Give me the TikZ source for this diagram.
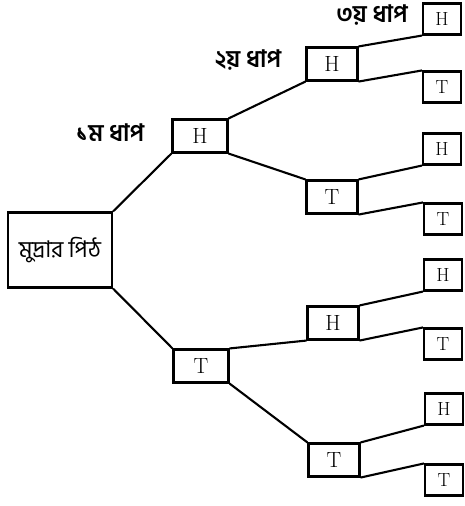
\documentclass[tikz,border=0pt]{standalone}
\usepackage{fontspec}
\newfontfamily\bn[Script=Bengali]{Hind Siliguri}
\begin{document}
\begin{tikzpicture}[x=1pt,y=-1pt,
  box/.style={draw,line width=2.1pt,inner sep=0pt,font=\fontsize{22}{22}\selectfont},
  bA/.style={box,minimum width=55pt,minimum height=33pt},
  bB/.style={box,minimum width=51pt,minimum height=33pt},
  bC/.style={box,minimum width=38pt,minimum height=31pt,font=\fontsize{19}{19}\selectfont},
  lab/.style={font=\bn\bfseries\fontsize{24}{24}\selectfont,inner sep=0pt},
  conn/.style={line width=2.1pt}]
\useasboundingbox (0,0) rectangle (465,506);
\node[box,minimum width=104pt,minimum height=75pt,font=\bn\fontsize{23}{23}\selectfont] (root) at (60,250) {মুদ্রার পিঠ};
\node[bA] (h1) at (200,136) {H};
\node[bA] (t1) at (201,366) {T};
\node[bB] (hh) at (332,64) {H};
\node[bB] (ht) at (332,197) {T};
\node[bB] (th) at (333,323) {H};
\node[bB] (tt) at (334,460) {T};
\node[bC] (hhh) at (442,19) {H};
\node[bC] (hht) at (442,87) {T};
\node[bC] (hth) at (442,149) {H};
\node[bC] (htt) at (443,219) {T};
\node[bC] (thh) at (443,275) {H};
\node[bC] (tht) at (443,344) {T};
\node[bC] (tth) at (444,409) {H};
\node[bC] (ttt) at (444,480) {T};
\node[lab] (l1) at (110,133) {১ম ধাপ};
\node[lab] (l2) at (248,60) {২য় ধাপ};
\node[lab] (l3) at (372,15) {৩য় ধাপ};
\foreach \p/\a/\b in {root/h1/t1,h1/hh/ht,t1/th/tt,hh/hhh/hht,ht/hth/htt,th/thh/tht,tt/tth/ttt}{
  \draw[conn] (\p.north east) -- (\a.south west);
  \draw[conn] (\p.south east) -- (\b.north west);
}
\end{tikzpicture}
\end{document}
